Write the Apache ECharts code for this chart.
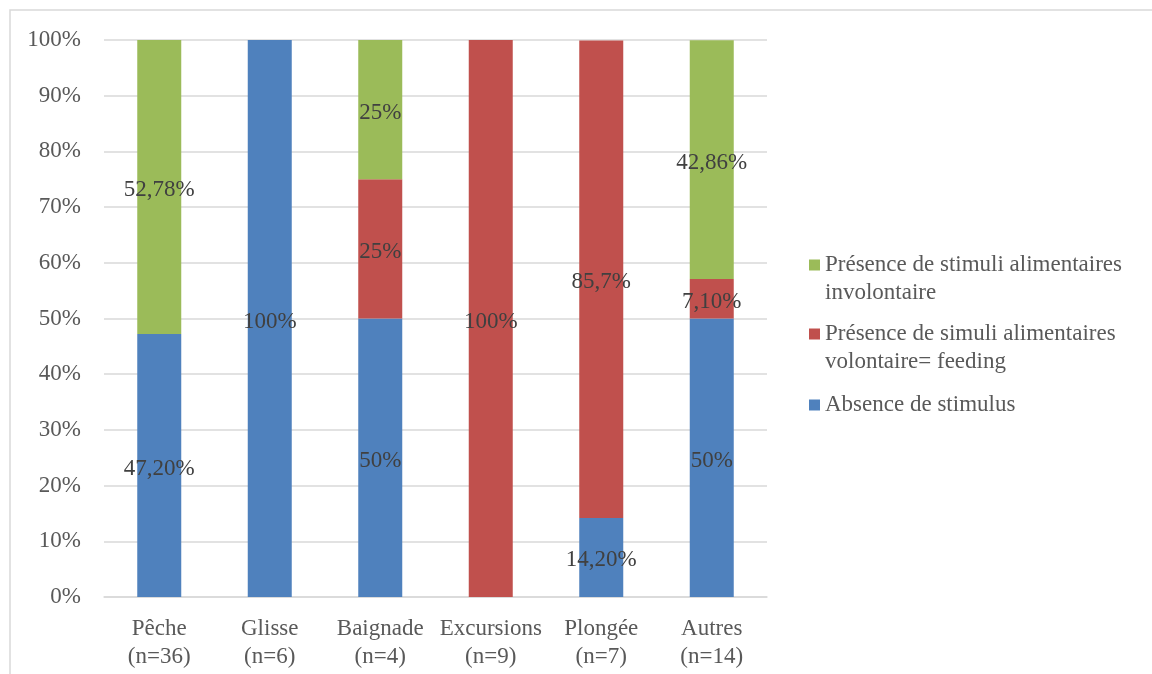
<!DOCTYPE html>
<html>
<head>
<meta charset="utf-8">
<script src="https://cdn.jsdelivr.net/npm/echarts@6/dist/echarts.min.js"></script>
<style>
html,body{margin:0;padding:0;background:#fff;}
#chart{width:1152px;height:674px;}
</style>
</head>
<body>
<div id="chart"></div>
<script>
// Categories
const categories = ['Pêche\n(n=36)', 'Glisse\n(n=6)', 'Baignade\n(n=4)', 'Excursions\n(n=9)', 'Plongée\n(n=7)', 'Autres\n(n=14)'];

// Series values (percent)
const absenceValues    = [47.20, 100, 50, 0, 14.20, 50];
const volontaireValues = [0, 0, 25, 100, 85.7, 7.10];
const involontaireValues = [52.78, 0, 25, 0, 0, 42.86];

// Data label texts as printed
const absenceLabels    = ['47,20%', '100%', '50%', '', '14,20%', '50%'];
const volontaireLabels = ['', '', '25%', '100%', '85,7%', '7,10%'];
const involontaireLabels = ['52,78%', '', '25%', '', '', '42,86%'];

// Series names
const nameAbsence = 'Absence de stimulus';
const nameVolontaire = 'Présence de simuli alimentaires\nvolontaire= feeding';
const nameInvolontaire = 'Présence de stimuli alimentaires\ninvolontaire';

// Y tick settings
const yMin = 0, yMax = 100, yStep = 10;

const FONT = '"Liberation Serif", "Times New Roman", serif';
const FS = 23;
const LH = 28;

const chart = echarts.init(document.getElementById('chart'), null, {renderer: 'canvas'});

function mkSeries(name, values, labels, color) {
  return {
    name: name,
    type: 'bar',
    stack: 'total',
    barWidth: 44,
    data: values,
    itemStyle: {color: color},
    label: {
      show: true,
      position: 'inside',
      offset: [0, 3],
      color: '#404040',
      fontFamily: FONT,
      fontSize: FS,
      formatter: p => labels[p.dataIndex]
    },
    emphasis: {disabled: true}
  };
}

function mkLegend(name, top, twoLines) {
  return {
    left: 809,
    top: top,
    padding: 0,
    orient: 'vertical',
    selectedMode: false,
    itemWidth: 11,
    itemHeight: 11,
    itemGap: 0,
    icon: 'rect',
    data: [name],
    formatter: twoLines ? (n => '\u00a0\n' + n) : (n => n),
    textStyle: {
      fontFamily: FONT,
      fontSize: FS,
      color: '#595959',
      lineHeight: LH
    }
  };
}

chart.setOption({
  animation: false,
  backgroundColor: '#fff',
  graphic: [{
    type: 'rect',
    shape: {x: 10, y: 10, width: 1200, height: 700},
    style: {fill: 'none', stroke: '#d9d9d9', lineWidth: 1.5},
    silent: true
  }],
  grid: {left: 104, right: 385, top: 40, bottom: 77},
  legend: [
    mkLegend(nameInvolontaire, 223, true),
    mkLegend(nameVolontaire, 292, true),
    mkLegend(nameAbsence, 391, false)
  ],
  xAxis: {
    type: 'category',
    data: categories,
    axisLine: {show: true, lineStyle: {color: '#d9d9d9', width: 1.5}},
    axisTick: {show: false},
    axisLabel: {
      color: '#595959',
      fontFamily: FONT,
      fontSize: FS,
      lineHeight: LH,
      margin: 18,
      interval: 0
    }
  },
  yAxis: {
    type: 'value',
    min: yMin,
    max: yMax,
    interval: yStep,
    axisLine: {show: false},
    axisTick: {show: false},
    splitLine: {lineStyle: {color: '#d9d9d9', width: 1.5}},
    axisLabel: {
      color: '#595959',
      fontFamily: FONT,
      fontSize: FS,
      margin: 23,
      padding: [4, 0, 0, 0],
      formatter: '{value}%'
    }
  },
  series: [
    mkSeries(nameAbsence, absenceValues, absenceLabels, '#4f81bd'),
    mkSeries(nameVolontaire, volontaireValues, volontaireLabels, '#c0504d'),
    mkSeries(nameInvolontaire, involontaireValues, involontaireLabels, '#9bbb59')
  ]
});
</script>
</body>
</html>
